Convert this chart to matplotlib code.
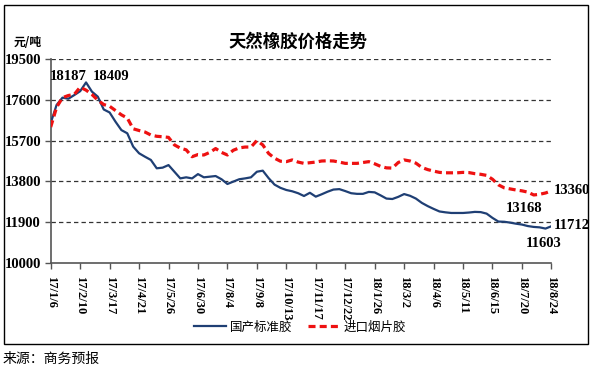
import matplotlib
matplotlib.use("Agg")
import matplotlib.pyplot as plt
from matplotlib.patches import Rectangle

# weekly prices, 17/1/6 .. 18/8/24 (86 weeks)
domestic = [16520, 17360, 17700, 17650, 17820, 18000, 18409, 17980, 17745, 17150,
            17010, 16580, 16190, 16040, 15420, 15110, 14950, 14800, 14410, 14440,
            14560, 14250, 13940, 13990, 13940, 14140, 13990, 14020, 14050, 13900,
            13680, 13790, 13900, 13940, 13990, 14250, 14300, 13950, 13650, 13500,
            13400, 13340, 13250, 13120, 13270, 13090, 13200, 13320, 13420, 13440,
            13350, 13250, 13220, 13220, 13310, 13290, 13150, 13000, 12980, 13080,
            13210, 13130, 13000, 12800, 12650, 12520, 12400, 12360, 12330, 12330,
            12330, 12350, 12380, 12370, 12300, 12100, 11930, 11920, 11880, 11830,
            11790, 11720, 11680, 11660, 11603, 11712]
imported = [16330, 17250, 17700, 17800, 17850, 18187, 18050, 17850, 17580, 17380,
            17300, 17100, 16900, 16750, 16250, 16170, 16100, 15960, 15900, 15880,
            15850, 15500, 15350, 15270, 14950, 15050, 15030, 15150, 15330, 15150,
            15030, 15250, 15360, 15400, 15400, 15700, 15500, 15100, 14880, 14740,
            14720, 14800, 14700, 14640, 14670, 14700, 14750, 14760, 14750, 14700,
            14640, 14640, 14640, 14680, 14720, 14620, 14500, 14430, 14420, 14680,
            14800, 14750, 14650, 14450, 14350, 14280, 14220, 14200, 14200, 14200,
            14220, 14210, 14160, 14130, 14080, 13900, 13640, 13500, 13450, 13400,
            13360, 13300, 13168, 13200, 13260, 13360]
tickLabels = ["17/1/6", "17/2/10", "17/3/17", "17/4/21", "17/5/26", "17/6/30",
              "17/8/4", "17/9/8", "17/10/13", "17/11/17", "17/12/22", "18/1/26",
              "18/3/2", "18/4/6", "18/5/11", "18/6/15", "18/7/20", "18/8/24"]
yTicks = [10000, 11900, 13800, 15700, 17600, 19500]

cjk = ["Noto Sans CJK SC", "DejaVu Sans"]
serif = "Liberation Serif"

fig = plt.figure(figsize=(5.94, 3.74), dpi=100)
fig.patch.set_facecolor("white")

# outer frame
fig.patches.append(Rectangle((4 / 594, 1 - 344 / 374), 584 / 594, 339 / 374,
                             transform=fig.transFigure, fill=False,
                             edgecolor="black", linewidth=1.0))

ax = fig.add_axes([50.7 / 594, 1 - 263 / 374, 500.7 / 594, 204 / 374])
weeks = list(range(len(domestic)))

ax.plot(weeks, domestic, color="#1f3f74", linewidth=1.6, label="国产标准胶", zorder=3)
ax.plot(weeks, imported, color="#ee1111", linewidth=2.3, linestyle=(0, (2.2, 1.3)),
        label="进口烟片胶", zorder=3)

ax.set_xlim(0, 85)
ax.set_ylim(10000, 19500)
ax.set_yticks(yTicks)
ax.set_yticklabels([str(v) for v in yTicks], fontfamily=serif, fontweight="bold",
                   fontsize=10.5)
ax.set_xticks(range(0, 86, 5))
ax.set_xticklabels(tickLabels, rotation=270, fontfamily=serif, fontweight="bold",
                   fontsize=9, va="top", ha="center")
ax.tick_params(axis="both", direction="out", length=4, width=1, color="#555555", pad=3)
ax.tick_params(axis="x", pad=5)

for v in yTicks[1:]:
    ax.axhline(v, color="#333333", linewidth=0.9, linestyle=(0, (3.5, 2.5)), zorder=1)

for s in ["top", "right"]:
    ax.spines[s].set_visible(False)
for s in ["left", "bottom"]:
    ax.spines[s].set_color("#555555")
    ax.spines[s].set_linewidth(1.2)

# point labels
lab = dict(fontfamily=serif, fontweight="bold", fontsize=10.5)
ax.annotate("18187", (5, 18187), xytext=(-22, 5), textcoords="offset points", **lab)
ax.annotate("18409", (6, 18409), xytext=(5, 2), textcoords="offset points", **lab)
ax.annotate("13360", (85, 13360), xytext=(2, -2), textcoords="offset points",
            annotation_clip=False, **lab)
ax.annotate("13168", (82, 13168), xytext=(-20, -12), textcoords="offset points", **lab)
ax.annotate("11712", (85, 11712), xytext=(2, -2), textcoords="offset points",
            annotation_clip=False, **lab)
ax.annotate("11603", (84, 11603), xytext=(-14, -13), textcoords="offset points",
            annotation_clip=False, **lab)

fig.text(298 / 594, 1 - 42 / 374, "天然橡胶价格走势", ha="center", va="center",
         fontsize=12.5, fontweight="bold", family=cjk)
fig.text(14 / 594, 1 - 42 / 374, "元/吨", ha="left", va="center",
         fontsize=8.5, fontweight="bold", family=cjk)
fig.text(3 / 594, 1 - 359 / 374, "来源：商务预报", ha="left", va="center",
         fontsize=10, family=cjk)

leg = fig.legend(loc="center", bbox_to_anchor=(300 / 594, 1 - 327 / 374), ncol=2,
                 frameon=False, prop={"family": cjk, "size": 9},
                 handlelength=2.6, columnspacing=1.2, handletextpad=0.3)

fig.savefig("out.png", dpi=100, facecolor="white")
